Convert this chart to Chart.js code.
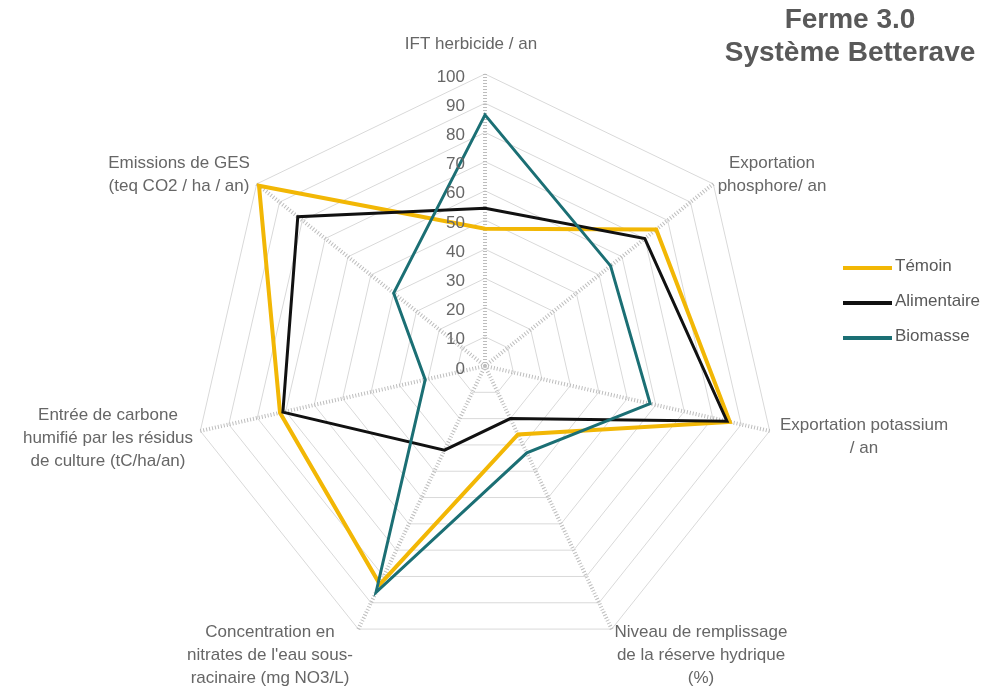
<!DOCTYPE html>
<html>
<head>
<meta charset="utf-8">
<script src="https://cdn.jsdelivr.net/npm/chart.js@4"></script>
<style>
  body { margin: 0; background: #fff; font-family: "Liberation Sans", Arial, sans-serif; }
  #wrap { position: relative; width: 999px; height: 686px; }
  #title { position: absolute; left: 690px; top: 2px; width: 320px; text-align: center;
    font-weight: bold; font-size: 28px; line-height: 33px; color: #595959; }
  #legend { position: absolute; left: 843px; top: 256px; font-size: 17px; color: #595959; }
  #legend div { height: 35px; display: flex; align-items: flex-start; }
  #legend span.sw { display: inline-block; width: 49px; height: 4px; margin-top: 10px; margin-right: 3px; }
</style>
</head>
<body>
<div id="wrap">
  <canvas id="radar" width="999" height="686"></canvas>
  <div id="title">Ferme 3.0<br>Système Betterave</div>
  <div id="legend"></div>
</div>
<script>
const axisLabels = [
  ["IFT herbicide / an"],
  ["Exportation", "phosphore/ an"],
  ["Exportation potassium", "/ an"],
  ["Niveau de remplissage", "de la réserve hydrique", "(%)"],
  ["Concentration en", "nitrates de l'eau sous-", "racinaire (mg NO3/L)"],
  ["Entrée de carbone", "humifié par les résidus", "de culture (tC/ha/an)"],
  ["Emissions de GES", "(teq CO2 / ha / an)"]
];

const temoin      = [47, 75, 86, 26, 83, 72, 99];
const alimentaire = [54, 70, 85, 20, 32, 71, 82];
const biomasse    = [86, 55, 58, 33, 86, 21, 40];

const tickValues = [0, 10, 20, 30, 40, 50, 60, 70, 80, 90, 100];

// label anchor (centre x, first line y) for each axis name
const labelPos = [
  [471, 44], [772, 163], [864, 425], [701, 632], [270, 632], [108, 415], [179, 163]
];

const series = [
  { label: "Témoin", data: temoin, color: "#f2b705", width: 4, order: 3 },
  { label: "Alimentaire", data: alimentaire, color: "#111111", width: 3, order: 2 },
  { label: "Biomasse", data: biomasse, color: "#1b6f74", width: 3, order: 1 }
];

const legend = document.getElementById("legend");
for (const s of series) {
  const row = document.createElement("div");
  row.innerHTML = `<span class="sw" style="background:${s.color}"></span><span>${s.label}</span>`;
  legend.appendChild(row);
}

const textPlugin = {
  id: "radarText",
  afterDatasetsDraw(chart) {
    const ctx = chart.ctx;
    const scale = chart.scales.r;
    ctx.save();
    ctx.font = "17px 'Liberation Sans', Arial, sans-serif";
    ctx.fillStyle = "#666666";
    ctx.textBaseline = "middle";

    ctx.textAlign = "right";
    for (const v of tickValues) {
      const d = scale.getDistanceFromCenterForValue(v);
      ctx.fillText(String(v), scale.xCenter - 20, scale.yCenter - d + 3);
    }

    ctx.textAlign = "center";
    axisLabels.forEach((lines, i) => {
      const [x, y] = labelPos[i];
      lines.forEach((t, k) => ctx.fillText(t, x, y + k * 23));
    });
    ctx.restore();
  }
};

new Chart(document.getElementById("radar"), {
  type: "radar",
  data: {
    labels: axisLabels.map(l => l.join(" ")),
    datasets: series.map(s => ({
      label: s.label,
      data: s.data,
      borderColor: s.color,
      borderWidth: s.width,
      backgroundColor: "transparent",
      fill: false,
      tension: 0,
      pointRadius: 0,
      pointHoverRadius: 0,
      order: s.order
    }))
  },
  options: {
    responsive: false,
    animation: false,
    layout: { padding: { left: 193, right: 222, top: 74, bottom: 28 } },
    plugins: { legend: { display: false }, tooltip: { enabled: false } },
    scales: {
      r: {
        min: 0,
        max: 100,
        ticks: { stepSize: 10, display: false },
        pointLabels: { display: false },
        grid: { color: "#d9d9d9", lineWidth: 1 },
        angleLines: { color: "#bdbdbd", lineWidth: 4, borderDash: [1, 2] }
      }
    }
  },
  plugins: [textPlugin]
});
</script>
</body>
</html>
